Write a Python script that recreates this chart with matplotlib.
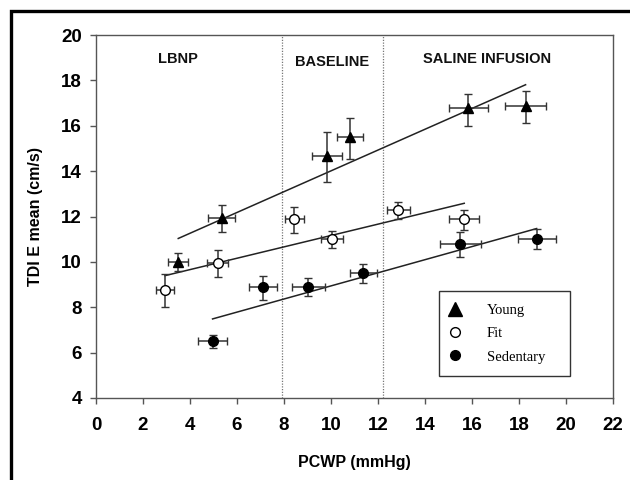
import numpy as np
import matplotlib
matplotlib.use("Agg")
import matplotlib.pyplot as plt
from matplotlib.patches import Rectangle
from matplotlib.lines import Line2D

# Data (PCWP mmHg, TDI E mean cm/s)
young_x = [3.50, 5.35, 9.84, 10.81, 15.84, 18.28]
young_y = [10.0, 11.92, 14.68, 15.49, 16.77, 16.87]
young_xerr = [0.43, 0.57, 0.63, 0.54, 0.84, 0.89]
young_yerr_lo = [0.40, 0.59, 1.17, 0.97, 0.77, 0.74]
young_yerr_hi = [0.38, 0.58, 1.03, 0.84, 0.61, 0.66]

fit_x = [2.94, 5.18, 8.44, 10.06, 12.87, 15.67]
fit_y = [8.76, 9.94, 11.88, 11.01, 12.29, 11.88]
fit_xerr = [0.39, 0.45, 0.40, 0.47, 0.50, 0.64]
fit_yerr_lo = [0.76, 0.59, 0.59, 0.41, 0.41, 0.48]
fit_yerr_hi = [0.70, 0.58, 0.55, 0.35, 0.36, 0.41]

sed_x = [4.96, 7.12, 9.04, 11.38, 15.51, 18.75]
sed_y = [6.51, 8.88, 8.91, 9.52, 10.77, 11.01]
sed_xerr = [0.62, 0.59, 0.71, 0.57, 0.86, 0.81]
sed_yerr_lo = [0.29, 0.56, 0.40, 0.44, 0.57, 0.44]
sed_yerr_hi = [0.27, 0.51, 0.36, 0.39, 0.53, 0.42]

phase_bounds = [7.9, 12.2]
phase_labels = ["LBNP", "BASELINE", "SALINE INFUSION"]
phase_label_x = [3.5, 10.05, 16.62]
phase_label_y = [18.94, 18.82, 18.93]

groups = ["Young", "Fit", "Sedentary"]

fig = plt.figure(figsize=(6.3, 4.8), dpi=100)
ax = fig.add_axes([96/630, 1-398/480, (613-96)/630, (398-35)/480])

ebkw = dict(ecolor="#333333", elinewidth=1.1, capsize=3.2, capthick=1.1, linestyle="none", zorder=3)

series = [
    (young_x, young_y, young_xerr, young_yerr_lo, young_yerr_hi, "^", "black", 7.5),
    (fit_x, fit_y, fit_xerr, fit_yerr_lo, fit_yerr_hi, "o", "white", 7),
    (sed_x, sed_y, sed_xerr, sed_yerr_lo, sed_yerr_hi, "o", "black", 7),
]
for xs, ys, xe, ylo, yhi, mk, fc, ms in series:
    xs = np.array(xs); ys = np.array(ys)
    ax.errorbar(xs, ys, xerr=xe, yerr=[ylo, yhi], fmt=mk, mfc=fc, mec="black",
                mew=1.0, ms=ms, **ebkw)
    k, b = np.polyfit(xs, ys, 1)
    xl = np.array([xs.min(), xs.max()])
    ax.plot(xl, k * xl + b, color="#222222", lw=1.1, zorder=2)

for xb in phase_bounds:
    ax.axvline(xb, color="#777777", lw=0.9, ls=(0, (1, 1.2)), zorder=1)

for lab, lx, ly in zip(phase_labels, phase_label_x, phase_label_y):
    ax.text(lx, ly, lab, ha="center", va="center", fontsize=10.5, fontweight="bold",
            family="Liberation Sans", color="#111111")

ax.set_xlim(0, 22)
ax.set_ylim(4, 20)
ax.set_xticks(range(0, 23, 2))
ax.set_yticks(range(4, 21, 2))
for s in ax.spines.values():
    s.set_color("#555555")
    s.set_linewidth(1.0)
ax.tick_params(direction="out", length=4, width=1, color="#555555")
ax.tick_params(axis="x", pad=10)
ax.tick_params(axis="y", pad=6)
for lbl in ax.get_xticklabels() + ax.get_yticklabels():
    lbl.set_fontsize(13.5)
    lbl.set_fontweight("bold")
    lbl.set_family("Liberation Sans")
ax.set_xlabel("PCWP (mmHg)", fontsize=11.5, fontweight="bold", family="Liberation Sans", labelpad=15)
ax.set_ylabel("TDI E mean (cm/s)", fontsize=11.5, fontweight="bold", family="Liberation Sans", labelpad=13)

handles = [
    Line2D([], [], marker="^", color="black", ls="none", ms=10),
    Line2D([], [], marker="o", mfc="white", mec="black", ls="none", ms=7),
    Line2D([], [], marker="o", color="black", ls="none", ms=7),
]
leg = ax.legend(handles, groups, loc="lower left", bbox_to_anchor=(14.61/22, (4.97-4)/16, (20.17-14.61)/22, (8.66-4.97)/16),
                mode="expand", frameon=True, fancybox=False, edgecolor="black",
                prop={"family": "Liberation Serif", "size": 10.5}, handletextpad=2.0,
                labelspacing=0.7, borderpad=0.85, borderaxespad=0, handlelength=0.4)
leg.get_frame().set_linewidth(1.0)

fig.patches.append(Rectangle((11/630, -0.1), 1.2, 1 - 11/480 + 0.1, transform=fig.transFigure,
                             fill=False, edgecolor="black", lw=2.4, zorder=10))

fig.savefig("out.png", dpi=100)
